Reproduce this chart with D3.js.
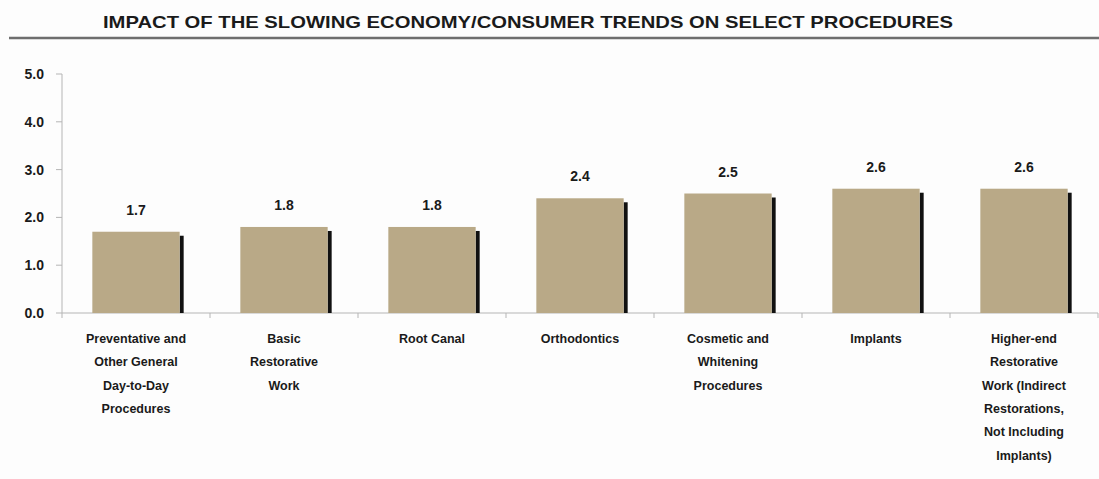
<!DOCTYPE html>
<html>
<head>
<meta charset="utf-8">
<script src="https://cdn.jsdelivr.net/npm/d3@7"></script>
<style>
  body { margin: 0; background: #fdfdfd; }
  svg { display: block; }
  text { font-family: "Liberation Sans", Arial, sans-serif; font-weight: bold; fill: #1a1a1a; }
</style>
</head>
<body>
<div id="chart"></div>
<script>
var title = "IMPACT OF THE SLOWING ECONOMY/CONSUMER TRENDS ON SELECT PROCEDURES";

// category labels, already broken into lines like the original
var categories = [
  ["Preventative and", "Other General", "Day-to-Day", "Procedures"],
  ["Basic", "Restorative", "Work"],
  ["Root Canal"],
  ["Orthodontics"],
  ["Cosmetic and", "Whitening", "Procedures"],
  ["Implants"],
  ["Higher-end", "Restorative", "Work (Indirect", "Restorations,", "Not Including", "Implants)"]
];
var values = [1.7, 1.8, 1.8, 2.4, 2.5, 2.6, 2.6];
var yTicks = [0, 1, 2, 3, 4, 5];

var w = 1099, h = 479;
var mLeft = 62, mRight = 1098, mTop = 74, mBottom = 313;

var svg = d3.select("#chart").append("svg")
  .attr("width", w)
  .attr("height", h);

svg.append("rect").attr("width", w).attr("height", h).attr("fill", "#fdfdfd");

// title + rule
svg.append("text")
  .attr("x", 103)
  .attr("y", 28)
  .attr("font-size", 16.5)
  .attr("textLength", 850)
  .attr("lengthAdjust", "spacingAndGlyphs")
  .text(title);

svg.append("line")
  .attr("x1", 9).attr("x2", w)
  .attr("y1", 38).attr("y2", 38)
  .attr("stroke", "#6e6e6e")
  .attr("stroke-width", 2.5);

var idx = d3.range(values.length);
var x = d3.scaleBand().domain(idx).range([mLeft, mRight]).paddingInner(0.41).paddingOuter(0.205);
var xStep = d3.scaleBand().domain(idx).range([mLeft, mRight]);
var y = d3.scaleLinear().domain([0, 5]).range([mBottom, mTop]);

// y axis
svg.append("line")
  .attr("x1", mLeft).attr("x2", mLeft)
  .attr("y1", y(5)).attr("y2", y(0))
  .attr("stroke", "#b5b5b5").attr("stroke-width", 1);

svg.selectAll("line.ytick").data(yTicks).enter().append("line")
  .attr("class", "ytick")
  .attr("x1", mLeft - 6).attr("x2", mLeft)
  .attr("y1", d => y(d)).attr("y2", d => y(d))
  .attr("stroke", "#b5b5b5");

svg.selectAll("text.ylab").data(yTicks).enter().append("text")
  .attr("class", "ylab")
  .attr("x", 44)
  .attr("y", d => y(d) + 5)
  .attr("text-anchor", "end")
  .attr("font-size", 14)
  .text(d => d3.format(".1f")(d));

// x axis
svg.append("line")
  .attr("x1", mLeft).attr("x2", mRight)
  .attr("y1", y(0)).attr("y2", y(0))
  .attr("stroke", "#b5b5b5");

svg.selectAll("line.xtick").data(d3.range(values.length + 1)).enter().append("line")
  .attr("class", "xtick")
  .attr("x1", d => mLeft + d * xStep.step()).attr("x2", d => mLeft + d * xStep.step())
  .attr("y1", y(0)).attr("y2", y(0) + 5)
  .attr("stroke", "#b5b5b5");

// bars with the black shadow strip on the right
var bars = svg.selectAll("g.bar").data(values).enter().append("g")
  .attr("class", "bar");

bars.append("rect")
  .attr("x", (d, i) => x(i) + x.bandwidth())
  .attr("y", d => y(d) + 4)
  .attr("width", 4)
  .attr("height", d => y(0) - y(d) - 4)
  .attr("fill", "#111");

bars.append("rect")
  .attr("x", (d, i) => x(i))
  .attr("y", d => y(d))
  .attr("width", x.bandwidth())
  .attr("height", d => y(0) - y(d))
  .attr("fill", "#b9a987");

bars.append("text")
  .attr("x", (d, i) => x(i) + x.bandwidth() / 2)
  .attr("y", d => y(d) - 17)
  .attr("text-anchor", "middle")
  .attr("font-size", 14)
  .text(d => d3.format(".1f")(d));

// category labels
var labs = svg.selectAll("text.cat").data(categories).enter().append("text")
  .attr("class", "cat")
  .attr("font-size", 12.5)
  .attr("text-anchor", "middle");

labs.selectAll("tspan").data((d, i) => d.map(s => ({ s: s, i: i }))).enter().append("tspan")
  .attr("x", d => x(d.i) + x.bandwidth() / 2)
  .attr("y", (d, j) => 343 + j * 23.3)
  .text(d => d.s);
</script>
</body>
</html>
